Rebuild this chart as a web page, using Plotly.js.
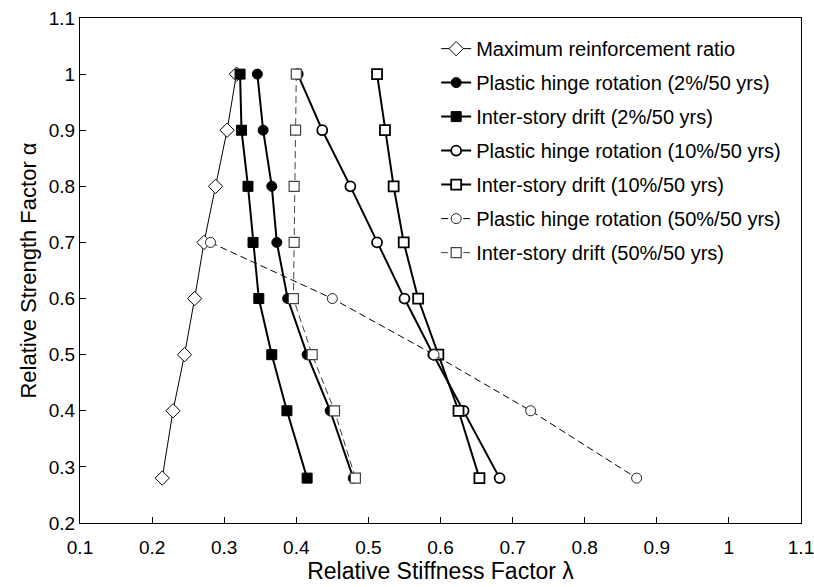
<!DOCTYPE html>
<html>
<head>
<meta charset="utf-8">
<script src="https://cdn.plot.ly/plotly-3.0.1.min.js"></script>
<style>html,body{margin:0;padding:0;background:#fff;}#chart{width:814px;height:587px;}</style>
</head>
<body>
<div id="chart"></div>
<script>
// Data
const alphaFull = [1.0, 0.9, 0.8, 0.7, 0.6, 0.5, 0.4, 0.28];
const alpha50phr = [0.7, 0.6, 0.5, 0.4, 0.28];

const maxReinf   = [0.317, 0.304, 0.288, 0.272, 0.259, 0.245, 0.229, 0.214];
const phr2       = [0.346, 0.354, 0.366, 0.373, 0.388, 0.415, 0.447, 0.479];
const drift2     = [0.322, 0.324, 0.333, 0.340, 0.348, 0.366, 0.387, 0.415];
const phr10      = [0.402, 0.436, 0.475, 0.512, 0.550, 0.590, 0.632, 0.682];
const drift10    = [0.512, 0.523, 0.535, 0.549, 0.569, 0.597, 0.625, 0.654];
const phr50      = [0.281, 0.450, 0.591, 0.725, 0.872];
const drift50    = [0.400, 0.399, 0.397, 0.397, 0.396, 0.422, 0.453, 0.482];

const names = [
  'Maximum reinforcement ratio',
  'Plastic hinge rotation (2%/50 yrs)',
  'Inter-story drift (2%/50 yrs)',
  'Plastic hinge rotation (10%/50 yrs)',
  'Inter-story drift (10%/50 yrs)',
  'Plastic hinge rotation (50%/50 yrs)',
  'Inter-story drift (50%/50 yrs)'
];

const mk = (x, y, i, line, marker) => ({
  x: x, y: y, name: names[i], legendgroup: 'g' + i,
  type: 'scatter', mode: 'lines+markers', line: line, marker: marker
});

const traces = [
  mk(maxReinf, alphaFull, 0, {color: '#000', width: 1},
     {symbol: 'diamond', size: 11, color: '#fff', line: {color: '#000', width: 1}}),
  mk(phr2, alphaFull, 1, {color: '#000', width: 2},
     {symbol: 'circle', size: 10, color: '#000', line: {color: '#000', width: 1}}),
  mk(drift2, alphaFull, 2, {color: '#000', width: 2},
     {symbol: 'square', size: 10, color: '#000', line: {color: '#000', width: 1}}),
  mk(phr10, alphaFull, 3, {color: '#000', width: 2},
     {symbol: 'circle', size: 10, color: '#fff', line: {color: '#000', width: 1.8}}),
  mk(drift10, alphaFull, 4, {color: '#000', width: 2},
     {symbol: 'square', size: 10, color: '#fff', line: {color: '#000', width: 1.8}}),
  mk(phr50, alpha50phr, 5, {color: '#000', width: 1, dash: '7px,4px'},
     {symbol: 'circle', size: 10, color: '#fff', line: {color: '#222', width: 1}}),
  mk(drift50, alphaFull, 6, {color: '#444', width: 1, dash: '7px,4px'},
     {symbol: 'square', size: 10, color: '#fff', line: {color: '#444', width: 1.2}})
];

const fontFam = 'Liberation Sans, Arial, sans-serif';

const layout = {
  width: 814, height: 587,
  margin: {l: 80, r: 13, t: 18, b: 64},
  paper_bgcolor: '#fff', plot_bgcolor: '#fff',
  font: {family: fontFam, color: '#000', size: 19},
  showlegend: true,
  legend: {
    x: 0.494, y: 0.978, xanchor: 'left', yanchor: 'top',
    bgcolor: 'rgba(0,0,0,0)', borderwidth: 0,
    font: {family: fontFam, size: 20, color: '#000'},
    tracegroupgap: 5, itemwidth: 30
  },
  xaxis: {
    range: [0.1, 1.1], dtick: 0.1, tick0: 0.1,
    showgrid: false, zeroline: false,
    showline: true, linecolor: '#000', linewidth: 1, mirror: true,
    ticks: 'inside', ticklen: 6, tickcolor: '#000', tickwidth: 1,
    tickfont: {size: 19}, ticklabelstandoff: 7, ticklabeloverflow: 'allow',
    title: {text: 'Relative Stiffness Factor λ', font: {size: 23}, standoff: 5}
  },
  yaxis: {
    range: [0.2, 1.1], dtick: 0.1, tick0: 0.2,
    showgrid: false, zeroline: false,
    showline: true, linecolor: '#000', linewidth: 1, mirror: true,
    ticks: 'inside', ticklen: 6, tickcolor: '#000', tickwidth: 1,
    tickfont: {size: 19}, ticklabeloverflow: 'allow',
    title: {text: 'Relative Strength Factor α', font: {size: 22}, standoff: 6}
  }
};

Plotly.newPlot('chart', traces, layout, {displayModeBar: false, staticPlot: true});
</script>
</body>
</html>
